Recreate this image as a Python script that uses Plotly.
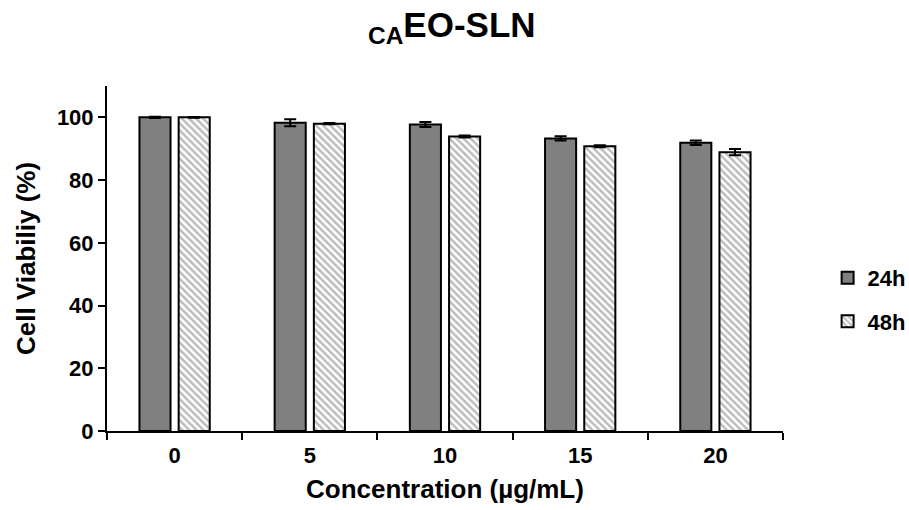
import plotly.graph_objects as go

categories = ["0", "5", "10", "15", "20"]
viab_24h = [100.0, 98.3, 97.7, 93.3, 91.9]
err_24h = [0.2, 1.1, 0.8, 0.7, 0.7]
viab_48h = [100.0, 98.0, 93.9, 90.8, 88.9]
err_48h = [0.1, 0.2, 0.3, 0.3, 1.0]
series_names = ["24h", "48h"]
y_ticks = [0, 20, 40, 60, 80, 100]

FONT = "Liberation Sans, Arial, sans-serif"

def bold(size):
    return dict(size=size, family=FONT, color="black", weight="bold")

fig = go.Figure()
fig.add_trace(go.Bar(
    x=categories, y=viab_24h, name=series_names[0],
    width=0.23, offset=-0.26,
    marker=dict(color="#808080", line=dict(color="black", width=2)),
    error_y=dict(type="data", array=err_24h, visible=True, color="black", thickness=2, width=6),
    legendgroup="a",
))
fig.add_trace(go.Bar(
    x=categories, y=viab_48h, name=series_names[1],
    width=0.23, offset=0.03,
    marker=dict(color="white", line=dict(color="black", width=2),
                pattern=dict(shape="\\", fgcolor="#7a7a7a", bgcolor="white", size=5, solidity=0.5)),
    error_y=dict(type="data", array=err_48h, visible=True, color="black", thickness=2, width=6),
    legendgroup="b",
))

fig.update_layout(
    width=909, height=510,
    margin=dict(l=107, r=126, t=86, b=79, autoexpand=False),
    plot_bgcolor="white", paper_bgcolor="white",
    font=dict(family=FONT, color="black"),
    title=dict(text="<sub>CA</sub>EO-SLN", x=0.497, xanchor="center", y=0.952, yanchor="middle",
               font=bold(35)),
    barmode="group",
    showlegend=True,
    legend=dict(x=1.066, xanchor="left", y=0.38, yanchor="middle",
                font=bold(22),
                tracegroupgap=12, itemwidth=30, bgcolor="rgba(0,0,0,0)"),
    xaxis=dict(
        type="category", range=[-0.5, 4.5],
        showline=True, linecolor="black", linewidth=2,
        ticks="outside", tickson="boundaries", ticklen=7, tickwidth=2, tickcolor="black",
        tickfont=bold(22), ticklabelstandoff=4,
        title=dict(text="Concentration (µg/mL)", font=bold(26), standoff=12),
        showgrid=False, zeroline=False,
    ),
    yaxis=dict(
        range=[0, 110], tickvals=y_ticks,
        showline=True, linecolor="black", linewidth=2,
        ticks="outside", ticklen=7, tickwidth=2, tickcolor="black",
        tickfont=bold(22),
        title=dict(text="Cell Viabiliy (%)", font=bold(26), standoff=14),
        showgrid=False, zeroline=False,
    ),
)

fig.write_html("out.html")
